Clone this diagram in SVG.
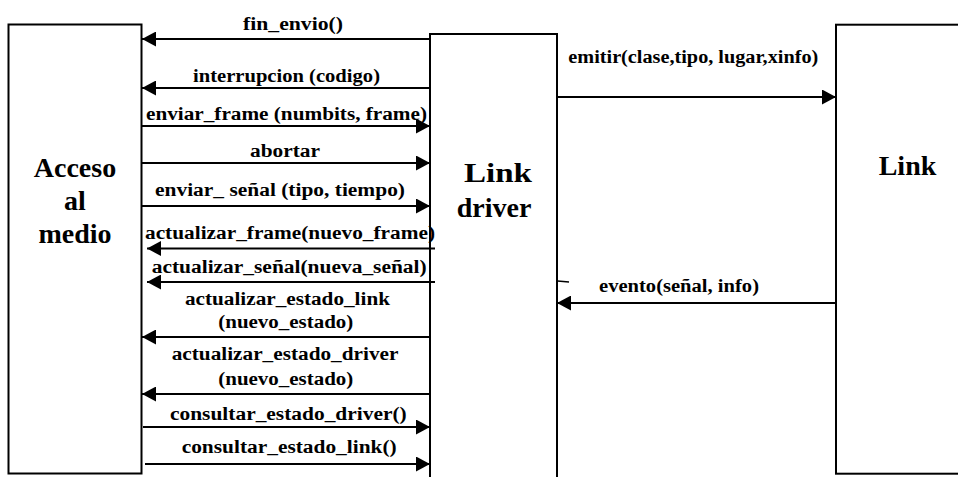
<svg xmlns="http://www.w3.org/2000/svg" width="958" height="477" viewBox="0 0 958 477">
<style>
.box{fill:#fff;stroke:#000;stroke-width:2}
.node{font-family:"Liberation Serif","Times New Roman",serif;font-weight:bold;font-size:28px;fill:#000;text-anchor:middle}
.lbl{font-family:"Liberation Serif","Times New Roman",serif;font-weight:bold;font-size:18px;fill:#000}
.msg{stroke:#000;stroke-width:2;fill:none;marker-end:url(#ah)}
</style>
<defs>
<marker id="ah" viewBox="0 0 14 15" refX="14" refY="7.5" markerWidth="14" markerHeight="15" markerUnits="userSpaceOnUse" orient="auto">
<path d="M0,0 L14,7.5 L0,15 Z" fill="#000"/>
</marker>
</defs>
<rect width="958" height="477" fill="#fff"/>
<g id="acceso">
<rect class="box" x="8.5" y="24.5" width="133" height="449"/>
<text class="node" x="75" y="177">Acceso</text>
<text class="node" x="75" y="210">al</text>
<text class="node" x="75" y="243">medio</text>
</g>
<g id="linkdriver">
<path class="box" d="M430,480 L430,34 L557,34 L557,480"/>
<text class="node" x="498" y="182" textLength="68" lengthAdjust="spacingAndGlyphs">Link</text>
<text class="node" x="494" y="217">driver</text>
</g>
<g id="link">
<rect class="box" x="836" y="24.7" width="140" height="449"/>
<text class="node" x="907.5" y="175">Link</text>
</g>
<g id="connectors">
<line class="msg" x1="430" y1="39" x2="142" y2="39"/>
<line class="msg" x1="430" y1="88" x2="142" y2="88"/>
<line class="msg" x1="142" y1="126" x2="430" y2="126"/>
<line class="msg" x1="142" y1="163" x2="430" y2="163"/>
<line class="msg" x1="142" y1="206" x2="430" y2="206"/>
<line class="msg" x1="435" y1="248.5" x2="147" y2="248.5"/>
<line class="msg" x1="435" y1="282" x2="147" y2="282"/>
<line class="msg" x1="430" y1="337" x2="142" y2="337"/>
<line class="msg" x1="430" y1="394" x2="142" y2="394"/>
<line class="msg" x1="143" y1="427" x2="430" y2="427"/>
<line class="msg" x1="145" y1="464" x2="430" y2="464"/>
<line class="msg" x1="557" y1="97" x2="836" y2="97"/>
<line class="msg" x1="836" y1="303" x2="557" y2="303"/>
<line x1="557.5" y1="281" x2="569" y2="282" stroke="#000" stroke-width="1.5"/>
<text class="lbl" x="243" y="30" textLength="100" lengthAdjust="spacingAndGlyphs">fin_envio()</text>
<text class="lbl" x="193" y="81.5" textLength="187" lengthAdjust="spacingAndGlyphs">interrupcion (codigo)</text>
<text class="lbl" x="146" y="120" textLength="281" lengthAdjust="spacingAndGlyphs">enviar_frame (numbits, frame)</text>
<text class="lbl" x="250" y="157" textLength="70" lengthAdjust="spacingAndGlyphs">abortar</text>
<text class="lbl" x="155" y="195.5" textLength="250" lengthAdjust="spacingAndGlyphs">enviar_ señal (tipo, tiempo)</text>
<text class="lbl" x="145" y="239.3" textLength="290" lengthAdjust="spacingAndGlyphs">actualizar_frame(nuevo_frame)</text>
<text class="lbl" x="151.7" y="273.3" textLength="275" lengthAdjust="spacingAndGlyphs">actualizar_señal(nueva_señal)</text>
<text class="lbl" x="185" y="305" textLength="205" lengthAdjust="spacingAndGlyphs">actualizar_estado_link</text>
<text class="lbl" x="218.3" y="328.3" textLength="135" lengthAdjust="spacingAndGlyphs">(nuevo_estado)</text>
<text class="lbl" x="171.7" y="360" textLength="226.7" lengthAdjust="spacingAndGlyphs">actualizar_estado_driver</text>
<text class="lbl" x="218.3" y="385" textLength="135" lengthAdjust="spacingAndGlyphs">(nuevo_estado)</text>
<text class="lbl" x="170" y="420" textLength="236.7" lengthAdjust="spacingAndGlyphs">consultar_estado_driver()</text>
<text class="lbl" x="181.7" y="453.3" textLength="215" lengthAdjust="spacingAndGlyphs">consultar_estado_link()</text>
<text class="lbl" x="568.3" y="63.3" textLength="250" lengthAdjust="spacingAndGlyphs">emitir(clase,tipo, lugar,xinfo)</text>
<text class="lbl" x="599" y="291.7" textLength="160" lengthAdjust="spacingAndGlyphs">evento(señal, info)</text>
</g>
</svg>
